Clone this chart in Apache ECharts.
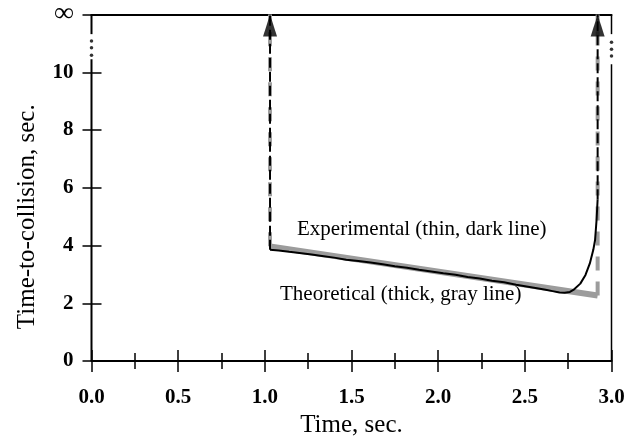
<!DOCTYPE html>
<html><head><meta charset="utf-8">
<script src="https://cdn.jsdelivr.net/npm/echarts@6/dist/echarts.min.js"></script>
<style>html,body{margin:0;padding:0;background:#fff}#c{width:628px;height:438px}</style>
</head><body><div id="c"></div>
<script>
// ---- data ----
const yTickValues = [0, 2, 4, 6, 8, 10, 12];
const yTickLabels = ['0', '2', '4', '6', '8', '10', '\u221E'];
const yInnerTicks = [0, 2, 4, 6, 8, 10];
const INF = 12; // axis position standing for "infinity"
const theoT = [1.03, 2.92];
const theoV = [3.97, 2.27];
const expT = [1.03,1.08,1.14,1.20,1.27,1.33,1.40,1.47,1.54,1.61,1.68,1.75,1.82,1.89,1.96,2.03,2.10,2.17,2.24,2.31,2.38,2.45,2.51,2.57,2.62,2.66,2.70,2.73,2.76,2.78,2.82,2.85,2.875,2.895,2.905,2.914,2.92];
const expV = [3.85,3.83,3.78,3.74,3.69,3.64,3.58,3.51,3.46,3.41,3.35,3.28,3.23,3.16,3.10,3.04,2.99,2.91,2.86,2.78,2.73,2.64,2.58,2.52,2.47,2.42,2.37,2.36,2.39,2.46,2.68,2.98,3.38,3.85,4.18,4.9,5.6];
const jumpT = [1.03, 2.92];           // times where TTC jumps to infinity
const leftBreak = [10.45, 11.32];     // gap in left axis
const leftDots = [10.59, 10.85, 11.08];
const rightBreak = [10.28, 11.32];    // gap in right frame
const rightDots = [10.56, 10.80, 11.04];
const xMin = 0, xMax = 3;

// ---- build ----
const serif = 'Liberation Serif, Times New Roman, serif';
const pairs = (ts, vs) => ts.map((t, i) => [t, vs[i]]);
const noSym = { showSymbol: false, symbol: 'none', silent: true, animation: false };

const series = [
  Object.assign({ type: 'line', data: pairs(theoT, theoV), lineStyle: { color: '#9c9c9c', width: 6 }, z: 2 }, noSym),
  Object.assign({ type: 'line', data: [[jumpT[0], theoV[0]], [jumpT[0], INF]], lineStyle: { color: '#9c9c9c', width: 4, type: [14, 11] }, z: 2 }, noSym),
  Object.assign({ type: 'line', data: [[jumpT[1], theoV[1]], [jumpT[1], INF]], lineStyle: { color: '#9c9c9c', width: 4, type: [14, 11] }, z: 2 }, noSym),
  Object.assign({ type: 'line', data: pairs(expT, expV), lineStyle: { color: '#000', width: 2 }, z: 3 }, noSym),
  Object.assign({ type: 'line', data: [[jumpT[0], expV[0]], [jumpT[0], INF]], lineStyle: { color: '#000', width: 2, type: [10, 4] }, z: 3 }, noSym),
  Object.assign({ type: 'line', data: [[jumpT[1], expV[expV.length - 1]], [jumpT[1], INF]], lineStyle: { color: '#000', width: 2, type: [10, 4] }, z: 3 }, noSym),
  { type: 'scatter', data: jumpT.map(t => [t, INF]), symbol: 'triangle', symbolSize: [14, 22], symbolOffset: [0, '50%'], itemStyle: { color: '#000' }, z: 5, silent: true, animation: false, clip: false },
  // frame left/right with breaks
  Object.assign({ type: 'line', data: [[xMin, 0], [xMin, leftBreak[0]]], lineStyle: { color: '#000', width: 2 }, clip: false, z: 4 }, noSym),
  Object.assign({ type: 'line', data: [[xMin, leftBreak[1]], [xMin, INF]], lineStyle: { color: '#000', width: 2 }, clip: false, z: 4 }, noSym),
  Object.assign({ type: 'line', data: [[xMax, 0], [xMax, rightBreak[0]]], lineStyle: { color: '#000', width: 1.5 }, clip: false, z: 4 }, noSym),
  Object.assign({ type: 'line', data: [[xMax, rightBreak[1]], [xMax, INF]], lineStyle: { color: '#000', width: 1.5 }, clip: false, z: 4 }, noSym),
  { type: 'scatter', data: leftDots.map(v => [xMin, v]).concat(rightDots.map(v => [xMax, v])), symbolSize: 3.5, itemStyle: { color: '#000' }, clip: false, silent: true, animation: false, z: 4 }
];

const xBase = { type: 'value', min: xMin, max: xMax, interval: 0.5, splitLine: { show: false } };
const yBase = { type: 'value', min: 0, max: INF, interval: 2, splitLine: { show: false } };

const option = {
  animation: false,
  backgroundColor: '#fff',
  grid: { left: 91.5, right: 16.5, top: 14.5, bottom: 77, containLabel: false, outerBoundsMode: 'none' },
  xAxis: [
    Object.assign({}, xBase, {
      position: 'bottom',
      axisLine: { show: true, lineStyle: { color: '#000', width: 2 } },
      axisTick: { show: true, inside: false, length: 11, lineStyle: { color: '#000', width: 1.5 } },
      minorTick: { show: true, splitNumber: 2, length: 8, lineStyle: { color: '#000', width: 1.5 } },
      axisLabel: { color: '#000', fontFamily: serif, fontWeight: 'bold', fontSize: 21, margin: 26, formatter: v => v.toFixed(1) },
      name: 'Time, sec.', nameLocation: 'middle', nameGap: 50,
      nameTextStyle: { color: '#000', fontFamily: serif, fontSize: 25 }
    }),
    Object.assign({}, xBase, {
      position: 'bottom',
      axisLine: { show: false },
      axisTick: { show: true, inside: true, length: 11, lineStyle: { color: '#000', width: 1.5 } },
      minorTick: { show: true, splitNumber: 2, length: 8, lineStyle: { color: '#000', width: 1.5 } },
      axisLabel: { show: false }
    }),
    Object.assign({}, xBase, {
      position: 'top',
      axisLine: { show: true, lineStyle: { color: '#000', width: 2 } },
      axisTick: { show: false }, axisLabel: { show: false }
    })
  ],
  yAxis: [
    Object.assign({}, yBase, {
      position: 'left',
      axisLine: { show: false },
      axisTick: { show: true, inside: false, length: 9, lineStyle: { color: '#000', width: 1.5 } },
      axisLabel: { color: '#000', fontFamily: serif, fontWeight: 'bold', fontSize: 21, margin: 18,
        formatter: v => { const s = yTickLabels[yTickValues.indexOf(v)]; return v === INF ? '{inf|' + s + '}' : s; },
        rich: { inf: { fontFamily: serif, fontWeight: 'bold', fontSize: 27, color: '#000' } } },
      name: 'Time-to-collision, sec.', nameLocation: 'middle', nameGap: 52,
      nameTextStyle: { color: '#000', fontFamily: serif, fontSize: 25, padding: [0, 58, 0, 0] }
    }),
    Object.assign({}, yBase, {
      position: 'left',
      axisLine: { show: false },
      axisTick: { show: true, inside: true, length: 10, customValues: yInnerTicks, lineStyle: { color: '#000', width: 1.5 } },
      axisLabel: { show: false }
    })
  ],
  graphic: [
    { type: 'text', left: 297, top: 219, silent: true, style: { text: 'Experimental (thin, dark line)', font: '21px ' + serif, fill: '#000' } },
    { type: 'text', left: 280, top: 284, silent: true, style: { text: 'Theoretical (thick, gray line)', font: '21px ' + serif, fill: '#000' } }
  ],
  series: series.map(s => Object.assign({ xAxisIndex: 0, yAxisIndex: 0 }, s))
};

const chart = echarts.init(document.getElementById('c'), null, { renderer: 'canvas' });
chart.setOption(option);
</script>
</body></html>
